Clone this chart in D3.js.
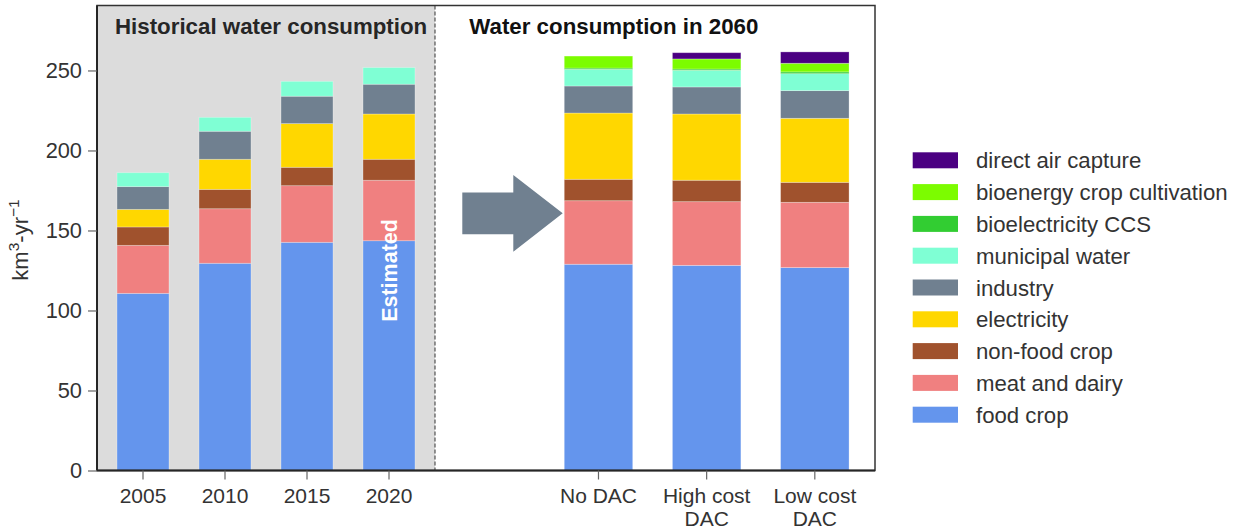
<!DOCTYPE html>
<html>
<head>
<meta charset="utf-8">
<script src="https://cdn.jsdelivr.net/npm/d3@7"></script>
<style>
  html, body { margin: 0; padding: 0; background: #fff; }
  svg { display: block; font-family: "Liberation Sans", Arial, sans-serif; }
</style>
</head>
<body>
<svg id="chart" width="1239" height="531"></svg>
<script>
// ---------------- DATA ----------------
const histCategories = ["2005", "2010", "2015", "2020"];
const futureCategories = ["No DAC", "High cost|DAC", "Low cost|DAC"];
const allCategories = histCategories.concat(futureCategories);

const seriesNames = ["food crop", "meat and dairy", "non-food crop", "electricity",
  "industry", "municipal water", "bioelectricity CCS", "bioenergy crop cultivation", "direct air capture"];

const foodCrop      = [110.7, 129.5, 142.6, 143.6, 128.9, 128.2, 126.8];
const meatDairy     = [30.0, 34.1, 35.4, 37.8, 39.7, 39.8, 40.8];
const nonFoodCrop   = [11.5, 12.1, 11.5, 13.1, 13.4, 13.4, 12.5];
const electricity   = [11.0, 18.8, 27.3, 28.3, 41.4, 41.4, 40.0];
const industry      = [14.2, 17.5, 17.1, 18.6, 16.9, 16.9, 17.3];
const municipal     = [8.7, 8.7, 9.3, 10.4, 10.4, 10.4, 10.6];
const bioelecCCS    = [0, 0, 0, 0, 0.8, 0.8, 1.1];
const bioenergyCrop = [0, 0, 0, 0, 7.5, 6.3, 5.4];
const directAir     = [0, 0, 0, 0, 0.0, 3.9, 7.1];

const yTicks = [0, 50, 100, 150, 200, 250];
const estimatedLabel = "Estimated";
const estimatedValue = 125;

const seriesColors = ["#6495ED", "#F08080", "#A0522D", "#FFD700", "#708090",
  "#7FFFD4", "#32CD32", "#7CFC00", "#4B0082"];

// ---------------- LAYOUT ----------------
const svg = d3.select("#chart");
const pLeft = 97, pSplit = 435, pRight = 875, pTop = 5.5, pBottom = 470.5;
const textColor = "#333";

const values = [foodCrop, meatDairy, nonFoodCrop, electricity, industry, municipal,
  bioelecCCS, bioenergyCrop, directAir];
const rows = allCategories.map((c, i) => {
  const r = { cat: c };
  seriesNames.forEach((s, k) => r[s] = values[k][i]);
  return r;
});
const stacked = d3.stack().keys(seriesNames)(rows);

const y = d3.scaleLinear().domain([0, 290.6]).range([pBottom, pTop]);
const xHist = d3.scaleBand().domain(histCategories).range([102, 430])
  .paddingInner(0.366).paddingOuter(0.183);
const xFut = d3.scaleBand().domain(futureCategories).range([544.4, 868.9])
  .paddingInner(0.367).paddingOuter(0.1835);
const xOf = c => histCategories.includes(c) ? xHist(c) : xFut(c);
const wOf = c => histCategories.includes(c) ? xHist.bandwidth() : xFut.bandwidth();

// left panel background
svg.append("rect").attr("x", pLeft).attr("y", pTop)
  .attr("width", pSplit - pLeft).attr("height", pBottom - pTop).attr("fill", "#DCDCDC");

// bars
stacked.forEach((layer, k) => {
  svg.append("g").selectAll("rect").data(layer.filter(d => d[1] - d[0] > 0)).join("rect")
    .attr("x", d => xOf(d.data.cat))
    .attr("width", d => wOf(d.data.cat))
    .attr("y", d => y(d[1]))
    .attr("height", d => y(d[0]) - y(d[1]))
    .attr("fill", seriesColors[k])
    .attr("stroke", "rgba(255,255,255,0.35)")
    .attr("stroke-width", 0.8);
});

// Estimated label
svg.append("text")
  .attr("transform", `translate(${xHist("2020") + xHist.bandwidth() / 2 + 7.5},${y(estimatedValue)}) rotate(-90)`)
  .attr("text-anchor", "middle")
  .attr("fill", "#fff").attr("font-weight", "bold").attr("font-size", 21.5)
  .text(estimatedLabel);

// arrow
const ax0 = 462.3, ax1 = 513.3, ax2 = 562.7;
const ac = y(160.7);
const arrowPts = [[ax0, ac - 20.8], [ax1, ac - 20.8], [ax1, ac - 38.3], [ax2, ac],
  [ax1, ac + 38.3], [ax1, ac + 20.8], [ax0, ac + 20.8]];
svg.append("polygon").attr("points", arrowPts.map(p => p.join(",")).join(" "))
  .attr("fill", "#708090");

// frame
svg.append("rect").attr("x", pLeft).attr("y", pTop)
  .attr("width", pRight - pLeft).attr("height", pBottom - pTop)
  .attr("fill", "none").attr("stroke", "#333").attr("stroke-width", 1.5);
svg.append("line").attr("x1", pLeft).attr("x2", pLeft).attr("y1", pTop).attr("y2", pBottom)
  .attr("stroke", "#262626").attr("stroke-width", 2);
svg.append("line").attr("x1", pLeft).attr("x2", pRight).attr("y1", pBottom).attr("y2", pBottom)
  .attr("stroke", "#262626").attr("stroke-width", 2);
svg.append("line").attr("x1", pSplit).attr("x2", pSplit).attr("y1", pTop).attr("y2", pBottom)
  .attr("stroke", "#333").attr("stroke-width", 1).attr("stroke-dasharray", "4,2");

// y axis
const yAxis = svg.append("g").attr("transform", `translate(${pLeft},0)`)
  .call(d3.axisLeft(y).tickValues(yTicks).tickSize(9).tickPadding(6));
yAxis.select(".domain").remove();
yAxis.selectAll("line").attr("stroke", "#666").attr("stroke-width", 1.2);
yAxis.selectAll("text").attr("font-size", 21.8).attr("fill", textColor)
  .attr("font-family", "Liberation Sans, Arial, sans-serif");

// x axes
function xAxisFor(scale) {
  const g = svg.append("g").attr("transform", `translate(0,${pBottom})`)
    .call(d3.axisBottom(scale).tickSize(9).tickPadding(8).tickFormat(""));
  g.select(".domain").remove();
  g.selectAll("line").attr("stroke", "#666").attr("stroke-width", 1.2);
  g.selectAll(".tick").each(function (d) {
    const t = d3.select(this).append("text").attr("fill", textColor).attr("font-size", 21)
      .attr("text-anchor", "middle").attr("font-family", "Liberation Sans, Arial, sans-serif");
    d.split("|").forEach((line, i) => {
      t.append("tspan").attr("x", 0).attr("y", 32.3 + i * 23.5).text(line);
    });
  });
}
xAxisFor(xHist);
xAxisFor(xFut);

// y label
const yl = svg.append("text")
  .attr("transform", `translate(28,${(pTop + pBottom) / 2 + 2}) rotate(-90)`)
  .attr("text-anchor", "middle").attr("font-size", 22).attr("fill", textColor);
yl.append("tspan").text("km");
yl.append("tspan").attr("font-size", 15.5).attr("dy", -9).text("3");
yl.append("tspan").attr("dy", 9).text("-yr");
yl.append("tspan").attr("font-size", 15.5).attr("dy", -9).text("\u22121");

// panel titles
svg.append("text").attr("x", 115).attr("y", 34.3).attr("font-size", 22.3).attr("font-weight", "bold")
  .attr("fill", "#262626").text("Historical water consumption");
svg.append("text").attr("x", 469.3).attr("y", 34.3).attr("font-size", 22.3).attr("font-weight", "bold")
  .attr("fill", "#111").text("Water consumption in 2060");

// legend
const legendNames = seriesNames.slice().reverse();
const legendColors = seriesColors.slice().reverse();
const leg = svg.append("g");
legendNames.forEach((n, i) => {
  const cy = 160.3 + i * 31.8;
  leg.append("rect").attr("x", 912.7).attr("y", cy - 8).attr("width", 45.3).attr("height", 16)
    .attr("fill", legendColors[i]);
  leg.append("text").attr("x", 976).attr("y", cy + 8).attr("font-size", 22.2)
    .attr("fill", textColor).text(n);
});
</script>
</body>
</html>
